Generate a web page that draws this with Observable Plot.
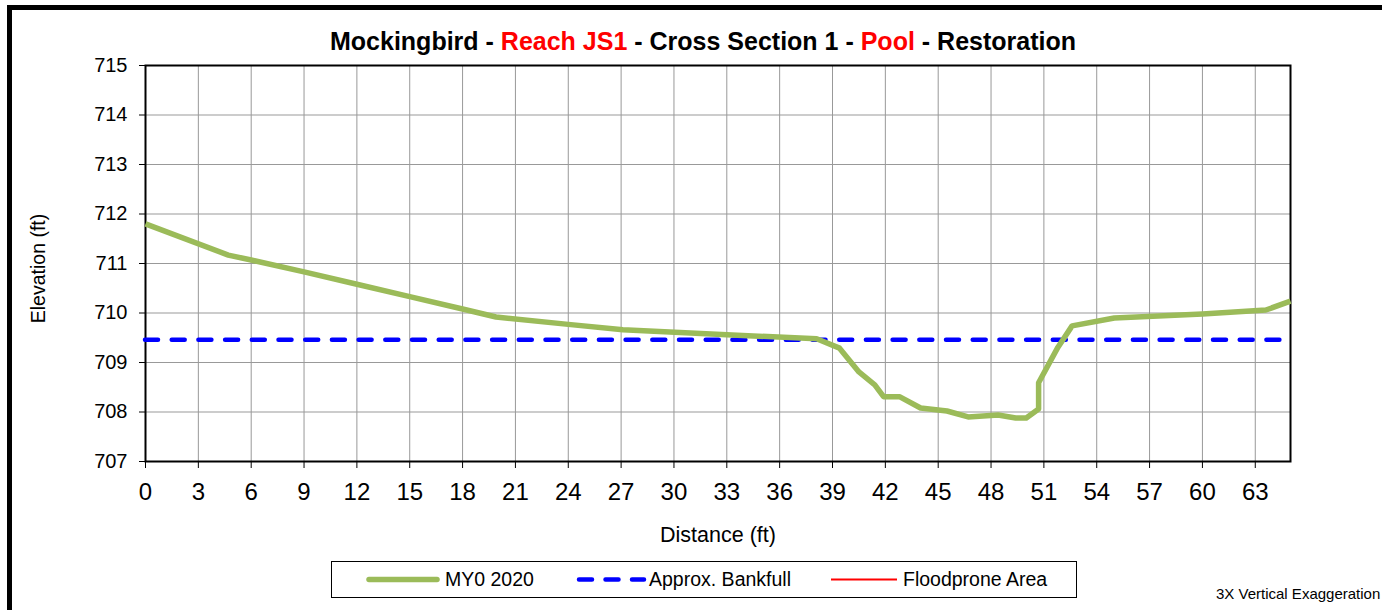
<!DOCTYPE html>
<html>
<head>
<meta charset="utf-8">
<script src="https://cdn.jsdelivr.net/npm/d3@7"></script>
<script src="https://cdn.jsdelivr.net/npm/@observablehq/plot@0.6"></script>
<style>
  html, body { margin: 0; padding: 0; background: white; }
  #wrap { position: relative; width: 1382px; height: 610px; overflow: hidden; background: white;
          font-family: "Liberation Sans", Arial, sans-serif; }
  #border { position: absolute; left: 7px; top: 5px; width: 1500px; height: 800px;
            border: 5px solid black; pointer-events: none; z-index: 5; box-sizing: border-box; }
  #title { position: absolute; left: 0; width: 1406px; top: 28.5px; text-align: center;
           font-size: 25px; line-height: 25px; font-weight: bold; color: black; z-index: 3; white-space: nowrap; }
  #title .red { color: #ff0000; }
  #chart { position: absolute; left: 12px; top: 24px; z-index: 1; }
  #legend { position: absolute; left: 331px; top: 561px; width: 746px; height: 37px;
            border: 1px solid black; box-sizing: border-box; background: white; z-index: 3; }
  .lg-item { position: absolute; top: 0; height: 35px; font-size: 19.5px; line-height: 35px; white-space: nowrap; }
  .lg-sw { position: absolute; top: 0; }
  #note { position: absolute; left: 1216px; top: 585px; font-size: 15px; line-height: 17px; z-index: 3; white-space: nowrap; }
</style>
</head>
<body>
<div id="wrap">
  <div id="border"></div>
  <div id="title">Mockingbird - <span class="red">Reach JS1</span> - Cross Section 1 - <span class="red">Pool</span> - Restoration</div>
  <div id="chart"></div>
  <div id="legend"></div>
  <div id="note">3X Vertical Exaggeration</div>
</div>
<script>
// ---- data ----
const distance  = [0, 4.7, 6, 9, 12, 15, 18, 19.9, 24, 27.1, 33, 38.1, 39.4, 40.5, 41.4, 41.9, 42.8, 44.0, 45.5, 46.7, 48.4, 49.4, 50.0, 50.7, 50.7, 51.8, 52.6, 55.0, 60.0, 63.6, 65.0];
const elevation = [711.80, 711.17, 711.07, 710.83, 710.58, 710.33, 710.08, 709.92, 709.77, 709.66, 709.56, 709.48, 709.29, 708.81, 708.55, 708.31, 708.31, 708.08, 708.02, 707.90, 707.94, 707.88, 707.88, 708.06, 708.59, 709.31, 709.74, 709.90, 709.98, 710.06, 710.24];
const bankfull = [709.46];
const xTicks = [0, 3, 6, 9, 12, 15, 18, 21, 24, 27, 30, 33, 36, 39, 42, 45, 48, 51, 54, 57, 60, 63];
const yTicks = [707, 708, 709, 710, 711, 712, 713, 714, 715];
const seriesNames = ["MY0 2020", "Approx. Bankfull", "Floodprone Area"];
const seriesColors = ["#9bbb59", "#0000ff", "#ff0000"];

const profile = distance.map((d, i) => ({distance: d, elevation: elevation[i]}));
const FONT = '"Liberation Sans", Arial, sans-serif';

const chart = Plot.plot({
  width: 1370,
  height: 540,
  marginLeft: 133,
  marginRight: 92,
  marginTop: 41,
  marginBottom: 103,
  style: {fontFamily: FONT, background: "none", color: "black", overflow: "visible"},
  x: {domain: [0, 65]},
  y: {domain: [707, 715]},
  marks: [
    Plot.gridX(xTicks, {stroke: "#999", strokeOpacity: 1, strokeWidth: 1}),
    Plot.gridY(yTicks, {stroke: "#999", strokeOpacity: 1, strokeWidth: 1}),
    Plot.axisX(xTicks, {tickSize: 7, tickPadding: 14, fontSize: 24, label: null, stroke: "black", strokeWidth: 1, tickFormat: d3.format("d")}),
    Plot.axisY(yTicks, {tickSize: 6, tickPadding: 12, fontSize: 20, label: null, stroke: "black", strokeWidth: 1, tickFormat: d3.format("d")}),
    Plot.frame({stroke: "black", strokeWidth: 2}),
    Plot.ruleY(bankfull, {stroke: seriesColors[1], strokeWidth: 4.5, strokeDasharray: "13,13.7", strokeLinecap: "round"}),
    Plot.line(profile, {x: "distance", y: "elevation", stroke: seriesColors[0], strokeWidth: 5.5, strokeLinejoin: "round", strokeLinecap: "butt"}),
    Plot.text(["Distance (ft)"], {frameAnchor: "bottom", dy: 80, text: d => d, fontSize: 21.5, lineAnchor: "bottom", fill: "black"}),
    Plot.text(["Elevation (ft)"], {frameAnchor: "left", textAnchor: "middle", dx: -107, dy: 5, rotate: -90, text: d => d, fontSize: 19.5, lineAnchor: "middle", fill: "black"})
  ]
});
document.getElementById("chart").appendChild(chart);

// ---- legend ----
const legend = document.getElementById("legend");
const items = [
  {sw: 37, swW: 68, text: 113, dash: null, width: 5.5},
  {sw: 245, swW: 67, text: 317, dash: "13,13.5", width: 4.5},
  {sw: 499, swW: 66, text: 571, dash: null, width: 2}
];
items.forEach((it, i) => {
  const s = d3.create("svg").attr("class", "lg-sw").attr("width", it.swW + 6).attr("height", 35)
    .style("left", (it.sw - 3) + "px");
  s.append("line").attr("x1", 3 + (i === 1 ? 2 : 0)).attr("x2", it.swW + 3).attr("y1", 17.5).attr("y2", 17.5)
    .attr("stroke", seriesColors[i]).attr("stroke-width", it.width)
    .attr("stroke-linecap", i === 2 ? "butt" : "round")
    .attr("stroke-dasharray", it.dash);
  legend.appendChild(s.node());
  const t = document.createElement("div");
  t.className = "lg-item";
  t.style.left = it.text + "px";
  t.textContent = seriesNames[i];
  legend.appendChild(t);
});
</script>
</body>
</html>
